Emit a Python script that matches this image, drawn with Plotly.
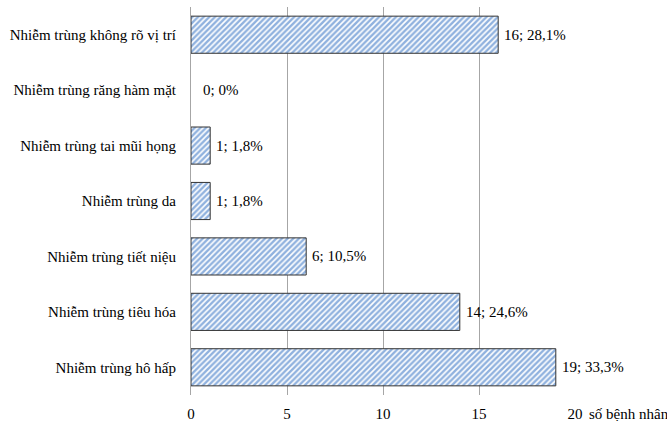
import plotly.graph_objects as go

# Categories listed bottom to top (Plotly draws the first category at the bottom)
categories = [
    "Nhiễm trùng hô hấp",
    "Nhiễm trùng tiêu hóa",
    "Nhiễm trùng tiết niệu",
    "Nhiễm trùng da",
    "Nhiễm trùng tai mũi họng",
    "Nhiễm trùng răng hàm mặt",
    "Nhiễm trùng không rõ vị trí",
]
patients = [19, 14, 6, 1, 1, 0, 16]
percent_labels = ["33,3%", "24,6%", "10,5%", "1,8%", "1,8%", "0%", "28,1%"]
x_ticks = [0, 5, 10, 15, 20]

labels = [f"{n}; {p}" for n, p in zip(patients, percent_labels)]
# no outline for an empty bar
outline_widths = [1 if n > 0 else 0 for n in patients]

FONT = "'Times New Roman', 'Liberation Serif', 'DejaVu Serif', serif"
SIZE = 15

fig = go.Figure(
    go.Bar(
        y=categories,
        x=patients,
        orientation="h",
        hoverinfo="skip",
        marker=dict(
            color="white",
            line=dict(color="#333333", width=outline_widths),
            pattern=dict(shape="/", fgcolor="#1f63bd", bgcolor="white",
                         size=4, solidity=0.6),
        ),
    )
)

# value labels placed just right of each bar end
annotations = [
    dict(
        x=n, y=c, xref="x", yref="y",
        text=t, showarrow=False,
        xanchor="left", yanchor="middle",
        xshift=4 if n > 0 else 10,
        font=dict(family=FONT, size=SIZE, color="#000000"),
    )
    for n, c, t in zip(patients, categories, labels)
]
annotations.append(
    dict(
        text="số bệnh nhân",
        xref="paper", yref="paper",
        x=1.0, y=0, xshift=12, yshift=-19,
        xanchor="left", yanchor="middle",
        showarrow=False,
        font=dict(family=FONT, size=SIZE, color="#000000"),
    )
)

fig.update_layout(
    width=667,
    height=421,
    margin=dict(l=191, r=92, t=7, b=26),
    paper_bgcolor="white",
    plot_bgcolor="white",
    bargap=0.33,
    showlegend=False,
    font=dict(family=FONT, size=SIZE, color="#000000"),
    xaxis=dict(
        range=[0, 20],
        tickvals=x_ticks,
        showgrid=True,
        gridcolor="#a6a6a6",
        gridwidth=1,
        zeroline=False,
        showline=False,
        ticks="",
        ticklabelstandoff=8,
        automargin=False,
        tickfont=dict(family=FONT, size=SIZE, color="#000000"),
    ),
    yaxis=dict(
        showline=True,
        linecolor="#a6a6a6",
        linewidth=1,
        ticks="",
        ticklabelstandoff=11,
        automargin=False,
        tickfont=dict(family=FONT, size=SIZE, color="#000000"),
    ),
    annotations=annotations,
)

fig.write_html("out.html")
